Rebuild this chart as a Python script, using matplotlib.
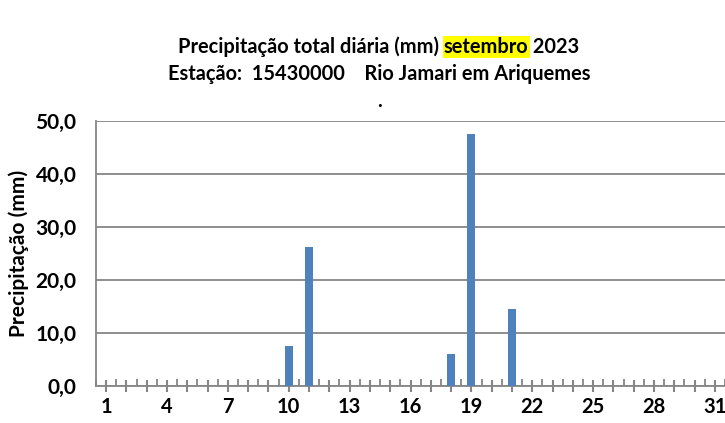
import matplotlib
matplotlib.use("Agg")
import matplotlib.pyplot as plt
import numpy as np

days = list(range(1, 32))
values = [0]*31
rain = {10: 7.4, 11: 26.1, 18: 6.0, 19: 47.5, 21: 14.5}
for d, v in rain.items():
    values[d-1] = v
yticks = [0, 10, 20, 30, 40, 50]

plt.rcParams['font.family'] = ['Lato', 'DejaVu Sans']
fig = plt.figure(figsize=(7.25, 4.23), dpi=100)
ax = fig.add_axes([96/725, 1-385.7/423, 1-96/725, (385.7-120.7)/423])

grey = '#868686'
ax.bar(days, values, width=0.4, color='#4F81BD', zorder=3)
ax.set_xlim(0.5, 31.5)
ax.set_ylim(0, 50)
ax.set_yticks(yticks)
ax.set_yticklabels([f"{v:.1f}".replace('.', ',') for v in yticks], fontsize=15, fontweight='bold')
ax.yaxis.grid(True, color=grey, linewidth=1.3, zorder=0)
ax.set_xticks(range(1, 32))
ax.set_xticklabels([str(d) if (d-1) % 3 == 0 else '' for d in days], fontsize=14.5, fontweight='bold')
ax.set_xticks(np.arange(0.5, 31.6, 1), minor=True)
ax.tick_params(axis='x', which='major', direction='inout', length=9, color=grey, width=1.5, pad=3.5)
ax.tick_params(axis='x', which='minor', direction='in', length=5, color=grey, width=1.3)
ax.tick_params(axis='y', length=0, pad=14)
for s in ['top', 'right']:
    ax.spines[s].set_visible(False)
ax.spines['left'].set_color(grey)
ax.spines['bottom'].set_color(grey)
ax.spines['left'].set_linewidth(1.3)
ax.spines['bottom'].set_linewidth(1.3)
ax.set_ylabel('Precipitação (mm)', fontsize=15, fontweight='bold')
ax.yaxis.set_label_coords(-(96-29)/629, 0.5)

fs = 14.4
cx = 379/725
t1 = fig.text(178/725, 1-47/423, 'Precipitação total diária (mm) ', fontsize=fs, fontweight='bold', va='center', ha='left')
t2 = ax.annotate('setembro', xy=(1, 0), xycoords=t1, fontsize=fs, fontweight='bold', va='bottom', ha='left',
                 bbox=dict(boxstyle='square,pad=0.05', fc='#FFFF00', ec='none'))
t3 = ax.annotate(' 2023', xy=(1, 0), xycoords=t2, fontsize=fs, fontweight='bold', va='bottom', ha='left')
fig.text(cx, 1-74/423, 'Estação:  15430000    Rio Jamari em Ariquemes', fontsize=fs, fontweight='bold', ha='center', va='center')
fig.text(cx, 1-101/423, '.', fontsize=fs, fontweight='bold', ha='center', va='center')

fig.savefig('out.png', dpi=100)
